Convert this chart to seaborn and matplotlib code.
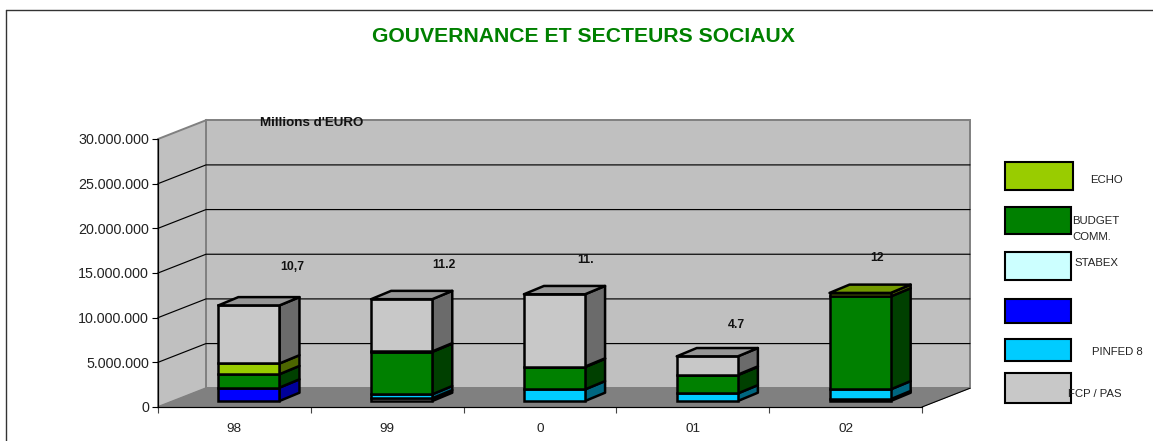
import numpy as np
import pandas as pd
import matplotlib
matplotlib.use("Agg")
import matplotlib.pyplot as plt
from matplotlib.lines import Line2D
from matplotlib.patches import Polygon, Rectangle
from matplotlib.ticker import FuncFormatter
import seaborn as sns

years = ["98", "99", "0", "01", "02"]
# values in millions of euro, stacked from bottom to top
fcp_base = [0.0, 0.3, 0.0, 0.0, 0.2]
pinfed8 = [0.0, 0.45, 1.3, 0.85, 1.1]
blue_unnamed = [1.5, 0.0, 0.0, 0.0, 0.0]
stabex = [0.0, 0.0, 0.0, 0.0, 0.0]
budget = [1.5, 4.75, 2.5, 2.05, 10.4]
echo = [1.2, 0.05, 0.05, 0.05, 0.4]
fcp_pas = [6.5, 5.85, 8.1, 2.05, 0.0]

total_labels = ["10,7", "11.2", "11.", "4.7", "12"]
total_label_y = [15.7, 15.9, 16.4, 9.2, 16.7]
total_label_shift = [0.38, 0.373, 0.297, 0.285, 0.209]

series_names = ["ECHO", "BUDGET\nCOMM.", "STABEX", "", "PINFED 8", "FCP / PAS"]
stack = [
    (fcp_base, "#C8C8C8", "#666666", "#969696"),
    (pinfed8, "#00CCFF", "#006680", "#0099BF"),
    (blue_unnamed, "#0000FF", "#00009A", "#0000BF"),
    (stabex, "#CCFFFF", "#668080", "#99BFBF"),
    (budget, "#008000", "#004000", "#006000"),
    (echo, "#99CC00", "#4D6600", "#739900"),
    (fcp_pas, "#C8C8C8", "#6B6B6B", "#969696"),
]
legend_colors = ["#99CC00", "#008000", "#CCFFFF", "#0000FF", "#00CCFF", "#C8C8C8"]

sns.set_theme(style="white")
plt.rcParams["font.family"] = ["Liberation Sans", "DejaVu Sans"]

W, H = 1153, 441
fig = plt.figure(figsize=(W / 100, H / 100), dpi=100, facecolor="white")
L, R, T, B = 158, 922, 139, 407
ax = fig.add_axes([L / W, (H - B) / H, (R - L) / W, (B - T) / H])
ax.patch.set_alpha(0)

M = 1e6
wall_dx, wall_dy = 48 / 152.8, 2.1 * M
bar_dx, bar_dy = 14.5 / 152.8, 0.67 * M
depth_dx, depth_dy = 20 / 152.8, 0.93 * M
bar_w = 0.4
x0, x1 = -0.5, 4.5
ymax = 30 * M

# 3D chart box
wall_c, floor_c, edge_c = "#C0C0C0", "#808080", "#808080"
ax.add_patch(Polygon([(x0 + wall_dx, wall_dy), (x1 + wall_dx, wall_dy), (x1 + wall_dx, ymax + wall_dy), (x0 + wall_dx, ymax + wall_dy)],
                     fc=wall_c, ec=edge_c, lw=1.4, zorder=0.2, clip_on=False))
ax.add_patch(Polygon([(x0, 0), (x0 + wall_dx, wall_dy), (x0 + wall_dx, ymax + wall_dy), (x0, ymax)],
                     fc=wall_c, ec=edge_c, lw=1.4, zorder=0.2, clip_on=False))
ax.add_patch(Polygon([(x0, 0), (x1, 0), (x1 + wall_dx, wall_dy), (x0 + wall_dx, wall_dy)],
                     fc=floor_c, ec=floor_c, lw=0.5, zorder=0.3, clip_on=False))
ax.plot([x1, x1 + wall_dx], [0, wall_dy], color="black", lw=0.8, zorder=0.4, clip_on=False)
for v in [5, 10, 15, 20, 25]:
    ax.plot([x0, x0 + wall_dx, x1 + wall_dx], [v * M, v * M + wall_dy, v * M + wall_dy],
            color="black", lw=0.85, zorder=0.5, clip_on=False)

# stacked fronts through seaborn, sides and tops from the same values
cum = np.zeros(len(years))
edge_lw = 1.8
top_color = [None] * len(years)
for vals, front, side, top in stack:
    vals = np.array(vals) * M
    mask = vals > 0
    if mask.any():
        df = pd.DataFrame({"year": np.array(years)[mask], "value": vals[mask],
                           "base": (cum + bar_dy)[mask]})
        sns.barplot(data=df, x="year", y="value", order=years, color=front, saturation=1,
                    width=bar_w, bottom=df["base"].values, edgecolor="black", linewidth=edge_lw,
                    ax=ax, zorder=2.2, errorbar=None, legend=False)
        for i in np.where(mask)[0]:
            xr = i + bar_w / 2 + bar_dx
            y0, y1 = cum[i] + bar_dy, cum[i] + vals[i] + bar_dy
            ax.add_patch(Polygon([(xr, y0), (xr + depth_dx, y0 + depth_dy), (xr + depth_dx, y1 + depth_dy), (xr, y1)],
                                 fc=side, ec="black", lw=edge_lw, zorder=2, joinstyle="round"))
            top_color[i] = top
    cum = cum + vals
for p in ax.patches:
    if isinstance(p, Rectangle):
        p.set_x(p.get_x() + bar_dx)
for i, c in enumerate(top_color):
    xl, xr = i - bar_w / 2 + bar_dx, i + bar_w / 2 + bar_dx
    y = cum[i] + bar_dy
    ax.add_patch(Polygon([(xl, y), (xr, y), (xr + depth_dx, y + depth_dy), (xl + depth_dx, y + depth_dy)],
                         fc=c, ec="black", lw=edge_lw, zorder=2.3, joinstyle="round"))

# axes
ax.set_xlim(x0, x1)
ax.set_ylim(0, ymax)
ax.set_xlabel("")
ax.set_ylabel("")
ax.set_xticks(np.arange(x0, x1 + 0.5, 1))
ax.set_xticklabels([])
ax.set_xticks(range(len(years)), years, minor=True)
ax.tick_params(axis="x", which="major", length=4.5, width=0.8, color="#444444", bottom=True)
ax.tick_params(axis="x", which="minor", length=0, labelsize=9.7, pad=11.5, labelcolor="#222222", bottom=True)
ax.set_yticks(np.arange(0, 31, 5) * M)
ax.yaxis.set_major_formatter(FuncFormatter(lambda v, _: f"{int(v):,}".replace(",", ".")))
ax.tick_params(axis="y", length=4, width=0.8, color="black", labelsize=10.3, pad=2.5, labelcolor="#222222", left=True)
for s in ["top", "right"]:
    ax.spines[s].set_visible(False)
for s in ["left", "bottom"]:
    ax.spines[s].set_color("black")
    ax.spines[s].set_linewidth(0.85)

def fx(x):
    return x / W

def fy(y):
    return (H - y) / H

# texts
fig.text(fx(583), fy(36), "GOUVERNANCE ET SECTEURS SOCIAUX", color="#008000", fontsize=15.2,
         fontweight="bold", ha="center", va="center")
fig.text(fx(312), fy(123), "Millions d'EURO", color="#111111", fontsize=9.6, fontweight="bold",
         ha="center", va="center")
for i, (t, y, s) in enumerate(zip(total_labels, total_label_y, total_label_shift)):
    ax.text(i + s, y * M, t, fontsize=8.8, fontweight="bold", color="#111111",
            ha="center", va="center", clip_on=False)

# legend boxes
swatches = [(1005, 162, 68, 28), (1005, 207, 66, 27), (1005, 252, 66, 28),
            (1005, 299, 66, 24), (1005, 339, 66, 22), (1005, 373, 66, 30)]
label_pos = [(1090, 180), (1072, 229), (1074, 263), (1072, 312), (1092, 352), (1068, 394)]
for (x, y, w, h), c, name, (tx, ty) in zip(swatches, legend_colors, series_names, label_pos):
    fig.add_artist(Rectangle((fx(x), fy(y + h)), w / W, h / H, transform=fig.transFigure,
                             fc=c, ec="black", lw=1.5))
    if name:
        fig.text(fx(tx), fy(ty), name, fontsize=8.2, color="#222222", ha="left", va="center", linespacing=1.75)

# outer frame: top and left edges only are visible
fig.add_artist(Line2D([fx(5.5), 1], [fy(9.5), fy(9.5)], transform=fig.transFigure, color="#333333", lw=1.0))
fig.add_artist(Line2D([fx(5.5), fx(5.5)], [0, fy(9.5)], transform=fig.transFigure, color="#333333", lw=1.0))

fig.savefig("out.png", dpi=100)
